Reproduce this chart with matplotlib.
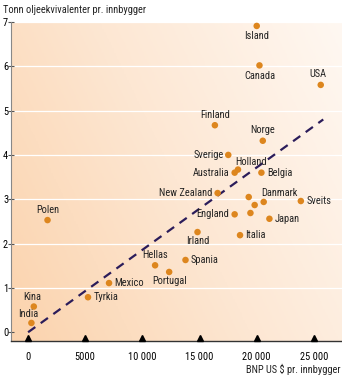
import numpy as np
import matplotlib
matplotlib.use("Agg")
import matplotlib.pyplot as plt
from matplotlib.colors import LinearSegmentedColormap

plt.rcParams['font.family'] = ['Roboto Condensed', 'DejaVu Sans']

# BNP per innbygger (US $) og energibruk (tonn oljeekvivalenter)
land = ['Island', 'Canada', 'USA', 'Finland', 'Norge', 'Sverige', 'Holland',
        'Australia', 'Belgia', 'New Zealand', 'Danmark', '', '', '', 'Sveits',
        'England', 'Japan', 'Irland', 'Italia', 'Spania', 'Portugal', 'Hellas',
        'Mexico', 'Tyrkia', 'Kina', 'India', 'Polen']
bnp = [20000, 20240, 25600, 16340, 20530, 17510, 18360,
       18070, 20410, 16580, 20610, 19300, 19820, 19450, 23860,
       18070, 21110, 14820, 18540, 13770, 12340, 11110,
       7080, 5240, 500, 290, 1700]
energi = [6.91, 6.02, 5.58, 4.67, 4.32, 4.00, 3.67,
          3.60, 3.60, 3.14, 2.94, 3.05, 2.87, 2.69, 2.96,
          2.66, 2.56, 2.26, 2.19, 1.63, 1.36, 1.51,
          1.11, 0.79, 0.58, 0.21, 2.53]
# plassering av etikett: (dx, dy) i punkter, ha, va
plassering = {
    'Island': (0, -4, 'center', 'top'), 'Canada': (0, -4, 'center', 'top'),
    'USA': (-2, 4, 'center', 'bottom'), 'Finland': (0, 4, 'center', 'bottom'),
    'Norge': (0, 4, 'center', 'bottom'), 'Sverige': (-3, 0, 'right', 'center'),
    'Holland': (-2, 2, 'left', 'bottom'), 'Australia': (-4, 0, 'right', 'center'),
    'Belgia': (4, 0, 'left', 'center'), 'New Zealand': (-4, 0, 'right', 'center'),
    'Danmark': (-2, 3, 'left', 'bottom'), 'Sveits': (4, 0, 'left', 'center'),
    'England': (-4, 0, 'right', 'center'), 'Japan': (4, 0, 'left', 'center'),
    'Irland': (0, -3, 'center', 'top'), 'Italia': (4, 0, 'left', 'center'),
    'Spania': (4, 0, 'left', 'center'), 'Portugal': (0, -3, 'center', 'top'),
    'Hellas': (0, 4, 'center', 'bottom'), 'Mexico': (4, 0, 'left', 'center'),
    'Tyrkia': (4, 0, 'left', 'center'), 'Kina': (-1, 3, 'center', 'bottom'),
    'India': (-2, 3, 'center', 'bottom'), 'Polen': (0, 4, 'center', 'bottom'),
}
trend_x = [0, 25820]
trend_y = [0, 4.80]
x_ticks = [0, 5000, 10000, 15000, 20000, 25000]
x_ticklabels = ['0', '5000', '10 000', '15 000', '20 000', '25 000']
y_ticks = [0, 1, 2, 3, 4, 5, 6, 7]

fig = plt.figure(figsize=(3.42, 3.85), dpi=100)
ax = fig.add_axes([0.032, 0.114, 0.968, 0.829])
xmin, xmax, ymin, ymax = -1500, 27460, -0.2, 7.0

# bakgrunn med fargeovergang
cmap = LinearSegmentedColormap.from_list('bg', ['#fbd3ad', '#fde7d3', '#fff8f2'])
gx, gy = np.meshgrid(np.linspace(0, 1, 200), np.linspace(0, 1, 200))
grad = 0.75 * gx + 0.35 * (1 - gy)
ax.imshow(grad, cmap=cmap, extent=[xmin, xmax, ymin, ymax], origin='upper',
          aspect='auto', zorder=0, vmin=0, vmax=1.1)

for y in y_ticks[1:]:
    ax.axhline(y, color='white', linewidth=0.9, zorder=1)

ax.plot(trend_x, trend_y, linestyle=(0, (4, 3)), color='#2b1c5a', linewidth=1.6, zorder=2)
ax.scatter(bnp, energi, s=22, color='#dd861e', edgecolors='none', zorder=3)

for navn, x, y in zip(land, bnp, energi):
    if not navn:
        continue
    dx, dy, ha, va = plassering[navn]
    ax.annotate(navn, (x, y), xytext=(dx, dy), textcoords='offset points',
                ha=ha, va=va, fontsize=7.5, color='#222222', zorder=4)

ax.set_xlim(xmin, xmax)
ax.set_ylim(ymin, ymax)
for s in ['top', 'right']:
    ax.spines[s].set_visible(False)
ax.spines['left'].set_color('#888888')
ax.spines['left'].set_linewidth(0.8)
ax.spines['bottom'].set_color('#333333')
ax.spines['bottom'].set_linewidth(1.0)

ax.set_yticks(y_ticks)
ax.set_yticklabels([str(v) for v in y_ticks], fontsize=7.5)
ax.tick_params(axis='y', direction='inout', length=4, width=0.8, color='#555555', pad=0)
ax.set_xticks(x_ticks)
ax.set_xticklabels(x_ticklabels, fontsize=7.5)
ax.tick_params(axis='x', length=0, pad=8)
ax.plot(x_ticks, [ymin + 0.06] * len(x_ticks), marker='^', linestyle='none',
        color='black', markersize=3.8, clip_on=False, zorder=5)

fig.text(0.008, 0.988, 'Tonn oljeekvivalenter pr. innbygger', fontsize=7.5,
         ha='left', va='top', color='#222222')
fig.text(0.997, 0.04, 'BNP US $ pr. innbygger', fontsize=7.5,
         ha='right', va='center', color='#222222')

fig.savefig('out.png', dpi=100)
